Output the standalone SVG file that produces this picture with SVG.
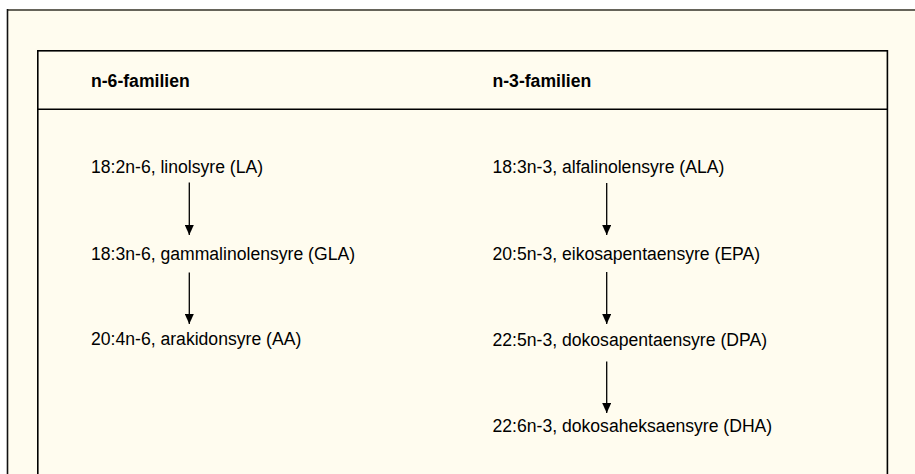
<svg xmlns="http://www.w3.org/2000/svg" width="915" height="474" viewBox="0 0 915 474">
  <defs>
    <style>
      .t { font-family: "Liberation Sans", Arial, sans-serif; font-size: 17.6px; fill: #000; }
      .h { font-weight: bold; }
      .frame { fill: none; stroke: #000; stroke-width: 1.6; }
      .conn line { stroke: #000; stroke-width: 1.3; }
    </style>
    <marker id="ah" viewBox="0 0 10 9" refX="10" refY="4.5" markerWidth="10" markerHeight="9" markerUnits="userSpaceOnUse" orient="auto">
      <path d="M0,0 L10,4.5 L0,9 Z" fill="#000"/>
    </marker>
  </defs>
  <rect x="0" y="0" width="915" height="474" fill="#ffffff"/>
  <rect x="7.5" y="10" width="920" height="480" fill="#fffcef"/>
  <line x1="7" y1="10" x2="915" y2="10" stroke="#66645a" stroke-width="2"/>
  <line x1="7.5" y1="9" x2="7.5" y2="474" stroke="#111" stroke-width="1.6"/>
  <g id="table">
    <rect class="frame" x="37.8" y="50.8" width="849.6" height="440"/>
    <line x1="37" y1="109.3" x2="888" y2="109.3" stroke="#000" stroke-width="1.6"/>
  </g>
  <g id="head-n6"><text class="t h" x="91" y="87">n-6-familien</text></g>
  <g id="head-n3"><text class="t h" x="492.5" y="87">n-3-familien</text></g>
  <g id="la"><text class="t" x="91" y="173">18:2n-6, linolsyre (LA)</text></g>
  <g id="gla"><text class="t" x="91" y="259.5">18:3n-6, gammalinolensyre (GLA)</text></g>
  <g id="aa"><text class="t" x="91" y="345">20:4n-6, arakidonsyre (AA)</text></g>
  <g id="ala"><text class="t" x="492.5" y="173">18:3n-3, alfalinolensyre (ALA)</text></g>
  <g id="epa"><text class="t" x="492.5" y="259.5">20:5n-3, eikosapentaensyre (EPA)</text></g>
  <g id="dpa"><text class="t" x="492.5" y="345.5">22:5n-3, dokosapentaensyre (DPA)</text></g>
  <g id="dha"><text class="t" x="492.5" y="431.5">22:6n-3, dokosaheksaensyre (DHA)</text></g>
  <g id="connectors" class="conn">
    <line x1="189.3" y1="182.5" x2="189.3" y2="235" marker-end="url(#ah)"/>
    <line x1="189.3" y1="272.5" x2="189.3" y2="324" marker-end="url(#ah)"/>
    <line x1="606.7" y1="183" x2="606.7" y2="235" marker-end="url(#ah)"/>
    <line x1="606.7" y1="272" x2="606.7" y2="324" marker-end="url(#ah)"/>
    <line x1="606.7" y1="361.5" x2="606.7" y2="413" marker-end="url(#ah)"/>
  </g>
</svg>
